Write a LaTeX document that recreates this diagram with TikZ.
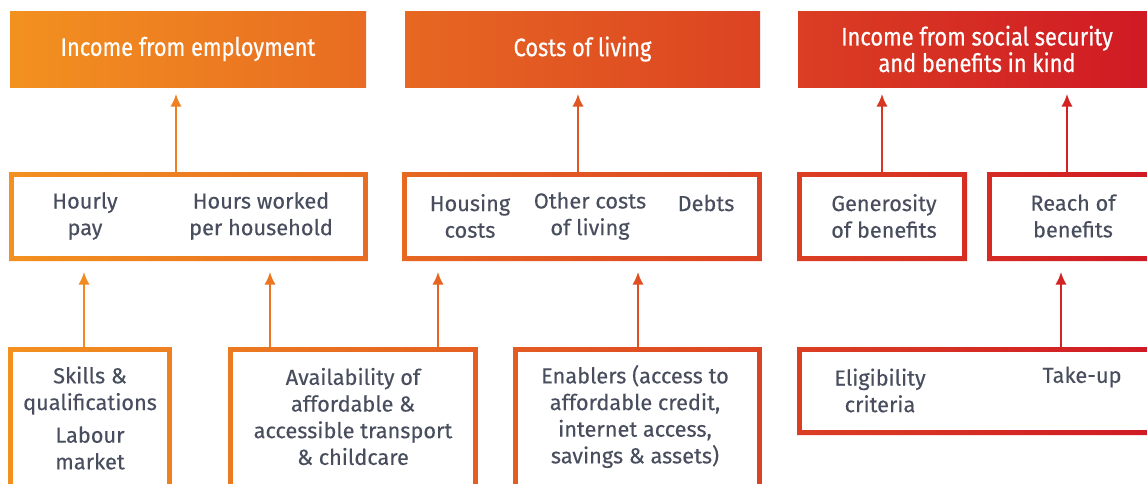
\documentclass[tikz,border=0pt]{standalone}
\usepackage{fontspec}
\setmainfont{Fira Sans}[FakeBold=0.25]
\newfontfamily\headfont{Fira Sans}[FakeStretch=0.86, FakeBold=0.6]
\usetikzlibrary{arrows.meta}
\definecolor{orangestart}{RGB}{243, 146, 32}
\definecolor{redend}{RGB}{208, 26, 36}
\definecolor{slategrey}{RGB}{72, 78, 94}

\begin{document}
\begin{tikzpicture}[
        x=0.75pt, y=-0.75pt,
        % box size in pixels of the layout grid
        size/.style 2 args={minimum width=#1*0.75pt, minimum height=#2*0.75pt},
        header/.style 2 args={
            rectangle, inner sep=0pt,
            left color=redend!#1!orangestart,
            right color=redend!#2!orangestart,
            text=white, align=center,
            font=\headfont\fontsize{19}{18}\selectfont
        },
        frame/.style 2 args={
            rectangle, inner sep=0pt, fill=white,
            path picture={
                \shade[even odd rule,
                       left color=redend!#1!orangestart,
                       right color=redend!#2!orangestart]
                    (path picture bounding box.south west) rectangle
                    (path picture bounding box.north east)
                    ([shift={(3.6pt,3.6pt)}]path picture bounding box.south west) rectangle
                    ([shift={(-3.6pt,-3.6pt)}]path picture bounding box.north east);
            }
        },
        item/.style={text=slategrey, align=center, inner sep=0pt,
            font=\fontsize{16.3}{20}\selectfont},
        feed/.style={draw=redend!#1!orangestart, line width=1.5pt,
            -{Latex[length=9.5pt, width=8.5pt]}}
    ]
    \clip (0,0) rectangle (1147,483);
    \fill[white] (0,0) rectangle (1147,483);

    % top row
    \node[header={1}{32}, size={356}{76}] (h1) at (188,49) {Income from employment};
    \node[header={35}{66}, size={355}{76}] (h2) at (582.5,49) {Costs of living};
    \node[header={70}{101}, size={358}{76}] (h3) at (977,49) {Income from social security\\and benefits in kind};

    % middle row
    \node[frame={1}{32}, size={359}{89}] (m1) at (188.5,216.5) {};
    \node[frame={35}{66}, size={360}{89}] (m2) at (582,216.5) {};
    \node[frame={69}{84}, size={170}{89}] (m3) at (882,216.5) {};
    \node[frame={86}{101}, size={173}{89}] (m4) at (1073.5,216.5) {};

    \node[item] (hourly) at (85,216) {Hourly\\pay};
    \node[item] (hours) at (261,216) {Hours worked\\per household};
    \node[item] (housing) at (470,216) {Housing\\costs};
    \node[item] (othercosts) at (590,216) {Other costs\\of living};
    \node[item] (debts) at (706,203) {Debts};
    \node[item] (generosity) at (884,216) {Generosity\\of benefits};
    \node[item] (reach) at (1073,216) {Reach of\\benefits};

    % bottom row
    \node[frame={1}{15}, size={164}{153}] (b1) at (90,423.5) {};
    \node[frame={20}{42}, size={250}{153}] (b2) at (353,423.5) {};
    \node[frame={45}{66}, size={249}{153}] (b3) at (637.5,423.5) {};
    \node[frame={69}{101}, size={363}{88}] (b4) at (978.5,391) {};

    \node[item] (skills) at (90,390.5) {Skills \&\\qualifications};
    \node[item] (labour) at (90,448) {Labour\\market};
    \node[item] (transport) at (353,416.5) {Availability of\\affordable \&\\accessible transport\\\& childcare};
    \node[item] (enablers) at (635,416.5) {Enablers (access to\\affordable credit,\\internet access,\\savings \& assets)};
    \node[item] (eligibility) at (880,390.5) {Eligibility\\criteria};
    \node[item] (takeup) at (1082,377) {Take-up};

    % arrows up to the headers
    \draw[feed=15] (m1.north -| 176,0) -- ([yshift=-5pt]h1.south -| 176,0);
    \draw[feed=50] (m2.north -| 578,0) -- ([yshift=-5pt]h2.south -| 578,0);
    \draw[feed=77] (m3.north -| 882,0) -- ([yshift=-5pt]h3.south -| 882,0);
    \draw[feed=93] (m4.north -| 1067,0) -- ([yshift=-5pt]h3.south -| 1067,0);

    % arrows up to the middle row
    \draw[feed=7] (b1.north -| 84,0) -- ([yshift=-8pt]m1.south -| 84,0);
    \draw[feed=24] (b2.north -| 270,0) -- ([yshift=-8pt]m1.south -| 270,0);
    \draw[feed=38] (b2.north -| 438,0) -- ([yshift=-8pt]m2.south -| 438,0);
    \draw[feed=56] (b3.north -| 638,0) -- ([yshift=-8pt]m2.south -| 638,0);
    \draw[feed=92] (b4.north -| 1061,0) -- ([yshift=-8pt]m4.south -| 1061,0);
\end{tikzpicture}
\end{document}
